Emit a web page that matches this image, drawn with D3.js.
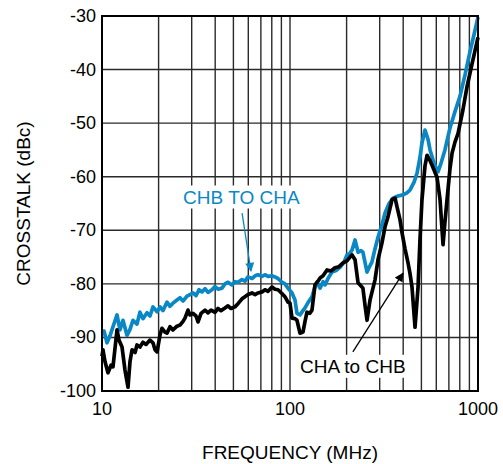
<!DOCTYPE html>
<html>
<head>
<meta charset="utf-8">
<script src="https://cdn.jsdelivr.net/npm/d3@7"></script>
<style>
  body { margin: 0; background: #fff; }
  text { font-family: "Liberation Sans", Arial, sans-serif; }
</style>
</head>
<body>
<script>
// CHB to CHA (blue) : frequency in MHz, crosstalk in dBc
const blueFreq = [10, 10.25, 10.63, 11.03, 11.44, 12.02, 12.46, 12.93, 13.58, 14.09, 14.62, 15.35, 15.92, 16.52, 17.35, 18.0, 18.67, 19.63, 20.36, 21.1, 22.17, 23.0, 23.85, 25.06, 26.0, 26.98, 28.33, 29.38, 30.48, 31.62, 32.81, 34.04, 35.32, 36.63, 38.46, 39.9, 41.4, 43.46, 45.1, 46.8, 49.1, 50.95, 52.9, 55.55, 57.6, 59.8, 62.8, 65.2, 67.6, 71.0, 73.6, 76.4, 80.2, 83.2, 86.3, 90.6, 94.0, 97.5, 102.5, 106.3, 108.9, 113.0, 117.2, 120.2, 124.7, 130.9, 135.8, 139.2, 144.5, 149.9, 153.6, 159.3, 167.2, 175.7, 184.5, 193.6, 200.9, 208.4, 213.8, 221.8, 230.1, 238.7, 244.3, 250.6, 256.9, 263.0, 272.9, 283.1, 293.8, 308.3, 320.0, 336.5, 353.2, 375.1, 399.0, 418.8, 434.5, 457.1, 474.2, 491.0, 503.5, 522.4, 542.0, 555.8, 583.4, 612.5, 635.5, 667.0, 709.6, 755.0, 801.7, 853.1, 906.0, 952.2, 1000];
const blueDb = [-89.2, -88.8, -91.0, -89.7, -88.0, -85.8, -88.6, -86.8, -89.6, -88.5, -86.8, -87.5, -85.3, -86.5, -85.4, -86.0, -84.3, -85.2, -84.3, -85.0, -83.4, -84.2, -83.6, -83.0, -82.6, -83.2, -82.3, -82.0, -81.7, -82.2, -81.1, -81.5, -80.9, -81.6, -81.1, -80.5, -81.0, -80.8, -80.0, -79.7, -80.2, -79.6, -79.7, -79.2, -79.5, -78.7, -79.0, -78.5, -78.3, -78.6, -78.3, -78.6, -78.5, -78.7, -79.0, -79.7, -80.0, -80.8, -81.7, -83.0, -85.5, -85.8, -85.0, -84.5, -83.5, -82.4, -80.5, -79.7, -80.8, -79.6, -80.2, -79.0, -77.8, -77.5, -76.9, -76.0, -74.6, -74.3, -73.7, -71.8, -74.1, -73.8, -74.1, -76.0, -77.8, -77.0, -75.9, -73.5, -71.3, -69.0, -66.8, -65.0, -64.0, -63.6, -63.4, -63.0, -62.5, -61.0, -59.3, -56.5, -53.7, -51.3, -53.0, -55.0, -57.5, -59.1, -57.5, -55.0, -50.9, -47.8, -45.0, -41.0, -36.7, -33.5, -30.2];

// CHA to CHB (black)
const blackFreq = [10, 10.12, 10.37, 10.76, 11.17, 11.44, 11.73, 12.02, 12.31, 12.78, 13.25, 13.75, 14.09, 14.45, 14.99, 15.35, 15.92, 16.52, 17.14, 18.0, 18.67, 19.14, 19.63, 20.36, 20.85, 21.63, 22.17, 23.0, 23.85, 25.06, 26.0, 26.98, 27.63, 28.67, 29.38, 30.48, 31.62, 32.42, 33.64, 35.32, 36.63, 38.0, 39.9, 41.4, 42.95, 45.1, 46.8, 48.55, 50.95, 52.9, 55.55, 57.6, 59.8, 62.8, 65.2, 67.6, 71.0, 73.6, 76.4, 80.2, 83.2, 86.3, 90.6, 94.0, 97.5, 100, 102.5, 106.3, 108.9, 113.0, 117.2, 120.2, 123.1, 127.5, 130.9, 135.8, 140.9, 144.5, 149.9, 157.3, 165.2, 173.4, 182.2, 191.4, 200.9, 208.4, 213.8, 221.8, 230.1, 238.7, 244.3, 250.6, 256.9, 266.5, 276.3, 283.1, 293.8, 308.3, 320.0, 332.0, 348.8, 362.3, 370.7, 384.6, 394.5, 409.3, 424.6, 434.5, 445.6, 462.4, 479.8, 491.0, 503.5, 522.4, 535.5, 555.8, 568.9, 605.4, 628.3, 651.6, 667.0, 684.3, 709.6, 727.8, 755.0, 783.4, 831.8, 873.0, 929.0, 1000];
const blackDb = [-93.5, -92.3, -94.5, -96.6, -95.2, -95.5, -92.0, -88.6, -90.5, -91.8, -96.1, -99.3, -94.5, -92.3, -92.8, -91.4, -91.8, -90.9, -91.3, -90.5, -91.0, -92.3, -92.7, -89.5, -88.3, -89.0, -89.2, -88.0, -88.6, -87.9, -87.7, -87.0, -86.4, -84.9, -85.8, -85.5, -86.0, -87.1, -85.5, -84.9, -85.4, -84.9, -85.3, -84.6, -85.0, -84.5, -84.1, -84.6, -84.3, -83.7, -82.8, -82.4, -82.0, -81.7, -82.0, -81.7, -81.5, -81.1, -81.4, -80.6, -81.0, -81.1, -81.8, -82.4, -83.4, -83.6, -86.4, -86.5, -86.8, -89.2, -89.0, -87.0, -85.3, -85.5, -84.9, -80.2, -79.5, -78.9, -78.5, -77.4, -77.6, -77.0, -76.8, -76.1, -75.7, -75.0, -74.6, -75.5, -79.8, -80.4, -80.8, -84.0, -86.8, -83.0, -80.8, -79.3, -75.5, -72.4, -69.4, -67.5, -64.3, -64.0, -65.6, -68.0, -70.5, -73.5, -76.1, -78.0, -80.6, -88.1, -80.6, -72.0, -64.3, -58.0, -56.0, -57.0, -57.8, -60.1, -64.3, -72.7, -68.5, -64.3, -58.5, -55.6, -53.5, -51.9, -47.5, -43.3, -39.0, -34.0];

const xTicks = [10, 100, 1000];
const yTicks = [-30, -40, -50, -60, -70, -80, -90, -100];

const width = 503;
const height = 464;
const margin = { left: 102, right: 25, top: 16, bottom: 73 };
const blue = '#0a87c5';

const svg = d3.select('body')
  .append('svg')
  .attr('width', width)
  .attr('height', height);

const x = d3.scaleLog()
  .domain([10, 1000])
  .range([margin.left, width - margin.right]);

const y = d3.scaleLinear()
  .domain([-100, -30])
  .range([height - margin.bottom, margin.top]);

// Grid: all log minor lines + major y lines
const gridX = [];
[10, 100].forEach(dec => {
  for (let k = 2; k <= 9; k++) gridX.push(dec * k);
});
gridX.push(100);

svg.append('g')
  .selectAll('line')
  .data(gridX)
  .join('line')
  .attr('x1', d => x(d)).attr('x2', d => x(d))
  .attr('y1', y(-100)).attr('y2', y(-30))
  .attr('stroke', '#2a2a2a')
  .attr('stroke-width', 1.4);

svg.append('g')
  .selectAll('line')
  .data(yTicks.slice(1, -1))
  .join('line')
  .attr('x1', x(10)).attr('x2', x(1000))
  .attr('y1', d => y(d)).attr('y2', d => y(d))
  .attr('stroke', '#2a2a2a')
  .attr('stroke-width', 1.4);

// Label backgrounds (grid is cut behind the annotation text)
const labelLayer = svg.append('g');

// Curves
const line = d3.line()
  .x(d => x(d[0]))
  .y(d => y(d[1]))
  .curve(d3.curveLinear);

svg.append('path')
  .datum(blueFreq.map((f, i) => [f, blueDb[i]]))
  .attr('d', line)
  .attr('fill', 'none')
  .attr('stroke', blue)
  .attr('stroke-width', 3.7)
  .attr('stroke-linejoin', 'round');

svg.append('path')
  .datum(blackFreq.map((f, i) => [f, blackDb[i]]))
  .attr('d', line)
  .attr('fill', 'none')
  .attr('stroke', '#000')
  .attr('stroke-width', 3.7)
  .attr('stroke-linejoin', 'round');

// Frame
svg.append('rect')
  .attr('x', x(10)).attr('y', y(-30))
  .attr('width', x(1000) - x(10))
  .attr('height', y(-100) - y(-30))
  .attr('fill', 'none')
  .attr('stroke', '#000')
  .attr('stroke-width', 2);

// Tick labels
svg.append('g')
  .selectAll('text')
  .data(yTicks)
  .join('text')
  .attr('x', x(10) - 6)
  .attr('y', d => y(d) + 6)
  .attr('text-anchor', 'end')
  .attr('font-size', 18)
  .text(d => d);

svg.append('g')
  .selectAll('text')
  .data(xTicks)
  .join('text')
  .attr('x', d => x(d))
  .attr('y', y(-100) + 24)
  .attr('text-anchor', 'middle')
  .attr('font-size', 18)
  .text(d => d);

// Axis titles
svg.append('text')
  .attr('x', (x(10) + x(1000)) / 2)
  .attr('y', 459)
  .attr('text-anchor', 'middle')
  .attr('font-size', 19)
  .text('FREQUENCY (MHz)');

svg.append('text')
  .attr('transform', `translate(30,${(y(-30) + y(-100)) / 2}) rotate(-90)`)
  .attr('text-anchor', 'middle')
  .attr('font-size', 19)
  .text('CROSSTALK (dBc)');

// Annotations
const defs = svg.append('defs');
[['headBlue', blue], ['headBlack', '#000']].forEach(([id, c]) => {
  defs.append('marker')
    .attr('id', id)
    .attr('viewBox', '0 0 10 10')
    .attr('refX', 9).attr('refY', 5)
    .attr('markerWidth', 10).attr('markerHeight', 9)
    .attr('markerUnits', 'userSpaceOnUse')
    .attr('orient', 'auto')
    .append('path')
    .attr('d', 'M0,0 L10,5 L0,10 Z')
    .attr('fill', c);
});

function label(text, f, db, color) {
  const t = svg.append('text')
    .attr('x', x(f))
    .attr('y', y(db))
    .attr('font-size', 19)
    .attr('fill', color)
    .text(text);
  const b = t.node().getBBox();
  labelLayer.append('rect')
    .attr('x', b.x - 2).attr('y', b.y - 1)
    .attr('width', b.width + 4).attr('height', b.height + 2)
    .attr('fill', '#fff');
}

label('CHB TO CHA', 27, -65.0, blue);
svg.append('line')
  .attr('x1', x(55.6)).attr('y1', y(-66.8))
  .attr('x2', x(62)).attr('y2', y(-77.6))
  .attr('stroke', blue)
  .attr('stroke-width', 1.3)
  .attr('marker-end', 'url(#headBlue)');

label('CHA to CHB', 113, -96.6, '#000');
svg.append('line')
  .attr('x1', x(216)).attr('y1', y(-92.7))
  .attr('x2', x(399)).attr('y2', y(-78))
  .attr('stroke', '#000')
  .attr('stroke-width', 1.3)
  .attr('marker-end', 'url(#headBlack)');
</script>
</body>
</html>
